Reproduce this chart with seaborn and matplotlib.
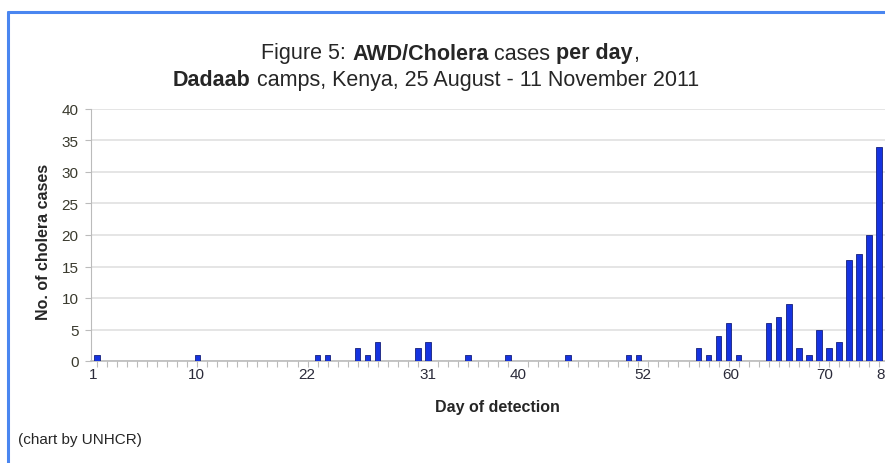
import matplotlib
matplotlib.use('Agg')
import matplotlib.pyplot as plt
import pandas as pd
import seaborn as sns
from matplotlib.lines import Line2D

# day of detection (1 = 25 August 2011) and cases per day
days = [1, 11, 23, 24, 27, 28, 29, 33, 34, 38, 42, 48, 54, 55,
        61, 62, 63, 64, 65, 68, 69, 70, 71, 72, 73, 74, 75, 76, 77, 78, 79]
cases = [1, 1, 1, 1, 2, 1, 3, 2, 3, 1, 1, 1, 1, 1,
         2, 1, 4, 6, 1, 6, 7, 9, 2, 1, 5, 2, 3, 16, 17, 20, 34]

# x labels as printed on the original (they sit off their own days)
xtick_labels = ['1', '10', '22', '31', '40', '52', '60', '70', '80']
xtick_pos = [0.6, 10.9, 21.9, 34.0, 43.0, 55.4, 64.2, 73.6, 79.6]
yticks = [0, 5, 10, 15, 20, 25, 30, 35, 40]

FONT = ['Liberation Sans', 'DejaVu Sans']

sns.set_style('white')
plt.rcParams['font.family'] = FONT

data = pd.DataFrame({'day': days, 'cases': cases})

W, H = 885, 464
figure = plt.figure(figsize=(W / 100, H / 100), dpi=100)
axis = figure.add_axes([91 / W, 1 - 362 / H, (W - 91) / W, 252 / H])

sns.barplot(data=data, x='day', y='cases', native_scale=True, width=0.55,
            color='#1533e0', saturation=1, edgecolor='#16207a', linewidth=0.6,
            ax=axis, zorder=3)

axis.set_xlim(0.4, 79.5)
axis.set_ylim(0, 40)
axis.set_yticks(yticks)
axis.yaxis.grid(True, color='#e0e0e0', linewidth=1.2, zorder=0)
axis.set_xticks(xtick_pos)
axis.set_xticklabels(xtick_labels)
axis.set_xticks(range(1, 80), minor=True)
axis.tick_params(axis='x', which='major', length=0, pad=4, labelsize=11,
                 labelcolor='#2b2b3a')
axis.tick_params(axis='x', which='minor', length=4, width=0.8, color='#bbbbbb',
                 direction='out', bottom=True)
axis.tick_params(axis='y', length=4, width=0.8, color='#bbbbbb', pad=5,
                 labelsize=11, labelcolor='#3a3a2e', left=True)
for side in ['top', 'right']:
    axis.spines[side].set_visible(False)
axis.spines['left'].set_color('#bbbbbb')
axis.spines['bottom'].set_color('#bbbbbb')
axis.spines['bottom'].set_linewidth(1.2)

axis.set_xlabel('')
axis.set_ylabel('')
figure.text(44 / W, 1 - 242 / H, 'No. of cholera cases', ha='center',
            va='center', rotation=90, fontsize=11.5, fontweight='bold')
figure.text(497 / W, 1 - 408 / H, 'Day of detection', ha='center', va='center',
            fontsize=11.5, fontweight='bold')
figure.text(18 / W, 1 - 440 / H, '(chart by UNHCR)', ha='left', va='center',
            fontsize=11)

# title with bold pieces, drawn run by run and centred as a whole
renderer = figure.canvas.get_renderer()


def rich_line(y_px, parts, cx_px, size=15.5):
    pieces = []
    total = 0
    for txt, weight in parts:
        t = figure.text(0, 1 - y_px / H, txt, fontsize=size, fontweight=weight,
                        va='center', ha='left')
        w = t.get_window_extent(renderer).width
        pieces.append((t, w))
        total += w
    x = cx_px - total / 2
    for t, w in pieces:
        t.set_x(x / W)
        x += w


rich_line(54, [('Figure 5: ', 'normal'), ('AWD/Cholera', 'bold'),
               (' cases ', 'normal'), ('per day', 'bold'), (',', 'normal')], 450)
rich_line(81, [('Dadaab', 'bold'),
               (' camps, Kenya, 25 August - 11 November 2011', 'normal')], 436)

# blue frame around the panel
frame_col = '#4a86f0'
figure.add_artist(Line2D([8 / W, 8 / W], [0, 1 - 13 / H], color=frame_col,
                         linewidth=2.2, transform=figure.transFigure))
figure.add_artist(Line2D([8 / W, 1], [1 - 13 / H, 1 - 13 / H], color=frame_col,
                         linewidth=2.2, transform=figure.transFigure))

figure.savefig('out.png', dpi=100)
